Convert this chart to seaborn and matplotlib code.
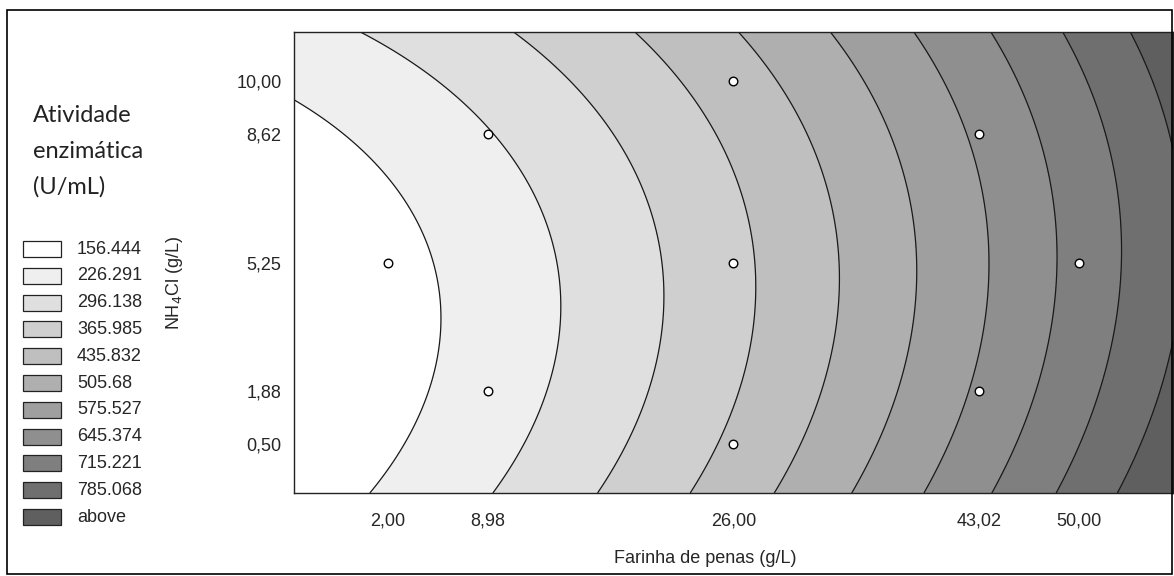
import numpy as np
import matplotlib
matplotlib.use("Agg")
import matplotlib.pyplot as plt
from matplotlib.patches import Rectangle
import seaborn as sns

# Quadratic response surface (coefficients):
# f = b0 + b1*x + b2*y + b11*x^2 + b22*y^2 + b12*x*y
b0, b1, b2 = 139.373, 7.15719, -13.2719
b11, b22, b12 = 0.0908525, 1.85504, -0.13949

levels = [156.444, 226.291, 296.138, 365.985, 435.832, 505.68,
          575.527, 645.374, 715.221, 785.068]
legend_labels = ["156.444", "226.291", "296.138", "365.985", "435.832", "505.68",
                 "575.527", "645.374", "715.221", "785.068", "above"]
band_colors = ["#ffffff", "#efefef", "#dfdfdf", "#cfcfcf", "#bfbfbf", "#afafaf",
               "#9f9f9f", "#8f8f8f", "#7f7f7f", "#6f6f6f", "#5f5f5f"]

# experimental design points
pts_x = [2.00, 8.98, 8.98, 26.00, 26.00, 26.00, 43.02, 43.02, 50.00]
pts_y = [5.25, 8.62, 1.88, 10.00, 5.25, 0.50, 8.62, 1.88, 5.25]

xticks = [2.00, 8.98, 26.00, 43.02, 50.00]
xticklabels = ["2,00", "8,98", "26,00", "43,02", "50,00"]
yticks = [0.50, 1.88, 5.25, 8.62, 10.00]
yticklabels = ["0,50", "1,88", "5,25", "8,62", "10,00"]

xlim = (-4.5, 56.5)
ylim = (-0.78, 11.28)

sns.set_style("white")
plt.rcParams["font.family"] = ["Liberation Sans", "DejaVu Sans"]

W, H = 1174, 576
fig = plt.figure(figsize=(W / 100, H / 100), dpi=100)
ax = fig.add_axes([294 / W, 83 / H, 879 / W, 461 / H])

gx = np.linspace(*xlim, 400)
gy = np.linspace(*ylim, 250)
GX, GY = np.meshgrid(gx, gy)
Z = b0 + b1 * GX + b2 * GY + b11 * GX ** 2 + b22 * GY ** 2 + b12 * GX * GY

ax.contourf(GX, GY, Z, levels=[-1e9] + levels + [1e9], colors=band_colors)
ax.contour(GX, GY, Z, levels=levels, colors="#1a1a1a", linewidths=0.9)

sns.scatterplot(x=pts_x, y=pts_y, ax=ax, marker="o", s=38, color="white",
                edgecolor="black", linewidth=1.0, zorder=5, legend=False)

ax.set_xlim(*xlim)
ax.set_ylim(*ylim)
ax.set_xticks(xticks)
ax.set_xticklabels(xticklabels, fontsize=13)
ax.set_yticks(yticks)
ax.set_yticklabels(yticklabels, fontsize=13)
minor_x = [26 + 1.702 * k for k in range(-18, 19) if xlim[0] < 26 + 1.702 * k < xlim[1]]
minor_y = [5.25 + 0.337 * k for k in range(-18, 19) if ylim[0] < 5.25 + 0.337 * k < ylim[1]]
ax.set_xticks(minor_x, minor=True)
ax.set_yticks(minor_y, minor=True)
ax.tick_params(which="both", direction="in", top=True, right=True, length=3,
               width=0.8, color="#222222")
ax.tick_params(axis="x", which="major", pad=14)
ax.tick_params(axis="y", which="major", pad=9)
for s in ax.spines.values():
    s.set_color("#222222")
    s.set_linewidth(1.0)

ax.set_xlabel("Farinha de penas (g/L)", fontsize=13)
ax.xaxis.set_label_coords((705 - 294) / 879, (493 - 550) / 461)
ax.set_ylabel("NH$_4$Cl (g/L)", fontsize=13)
ax.yaxis.set_label_coords((185 - 294) / 879, (493 - 283) / 461)

# legend block on the left
for i, line in enumerate(["Atividade", "enzimática", "(U/mL)"]):
    fig.text(33 / W, 1 - (115 + 36 * i) / H, line, fontsize=17,
             family=["Lato", "DejaVu Sans"], va="center", ha="left", color="#222222")
row0, step = 249, 26.8
for i, (lab, col) in enumerate(zip(legend_labels, band_colors)):
    yc = row0 + step * i
    fig.add_artist(Rectangle((23 / W, 1 - (yc + 8) / H), 38 / W, 16 / H,
                             transform=fig.transFigure, facecolor=col,
                             edgecolor="#222222", linewidth=0.9))
    fig.text(77 / W, 1 - yc / H, lab, fontsize=13, va="center", ha="left")

# outer frame
fig.add_artist(Rectangle((7 / W, 2 / H), (1172 - 7) / W, (566 - 2) / H,
                         transform=fig.transFigure, fill=False,
                         edgecolor="black", linewidth=1.2))

fig.savefig("out.png")
